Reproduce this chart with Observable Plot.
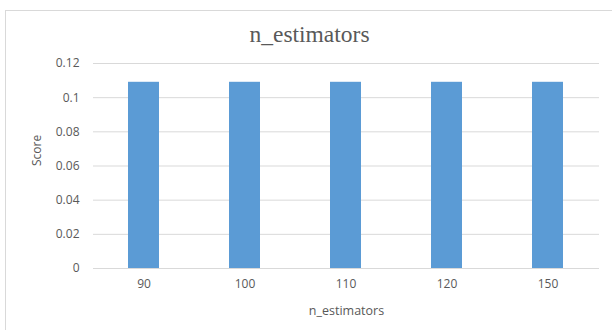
<!DOCTYPE html>
<html>
<head>
<meta charset="utf-8">
<script src="https://cdn.jsdelivr.net/npm/d3@7"></script>
<script src="https://cdn.jsdelivr.net/npm/@observablehq/plot@0.6"></script>
<style>
  html, body { margin: 0; padding: 0; background: #fff; }
  #wrap { position: relative; width: 612px; height: 330px; overflow: hidden; }
  #border { position: absolute; left: 5px; top: 10px; width: 700px; height: 400px;
            border-left: 1px solid #d9d9d9; border-top: 1px solid #d9d9d9; }
  #chart { position: absolute; left: 0; top: 0; }
  #title { position: absolute; left: 0; width: 619px; top: 22px; text-align: center;
           font-family: "Liberation Serif", "DejaVu Serif", serif; font-size: 23.5px;
           line-height: 24px; color: #595959; }
</style>
</head>
<body>
<div id="wrap">
  <div id="border"></div>
  <div id="chart"></div>
  <div id="title"></div>
</div>
<script>
// Score for each n_estimators setting
const estimators = ["90", "100", "110", "120", "150"];
const scores = [0.109, 0.109, 0.109, 0.109, 0.109];
const yTicks = [0, 0.02, 0.04, 0.06, 0.08, 0.1, 0.12];
const titleText = "n_estimators";
const xLabel = "n_estimators";
const yLabel = "Score";

const data = estimators.map((k, i) => ({k, v: scores[i]}));
const textColor = "#595959";

document.getElementById("title").textContent = titleText;

const plot = Plot.plot({
  width: 612,
  height: 330,
  marginLeft: 93,
  marginRight: 13,
  marginTop: 63,
  marginBottom: 62,
  style: {fontFamily: "'Open Sans', sans-serif", fontSize: "12px", color: textColor, background: "transparent"},
  x: {domain: estimators, paddingInner: 0.69, paddingOuter: 0.345, label: null},
  y: {domain: [0, 0.12], ticks: yTicks, label: null},
  marks: [
    Plot.ruleY(yTicks, {stroke: "#d9d9d9", strokeWidth: 1}),
    Plot.barY(data, {x: "k", y: "v", fill: "#5b9bd5"}),
    Plot.axisY({ticks: yTicks, tickSize: 0, tickPadding: 14, tickFormat: d => String(d), fill: textColor, label: null}),
    Plot.axisX({tickSize: 0, tickPadding: 11, fill: textColor, label: null}),
    Plot.text([xLabel], {frameAnchor: "bottom", dy: 46, text: d => d, fontSize: 12.5, fill: textColor}),
    Plot.text([yLabel], {frameAnchor: "left", dx: -56, rotate: -90, text: d => d, fontSize: 12, fill: textColor})
  ]
});
document.getElementById("chart").appendChild(plot);
</script>
</body>
</html>
